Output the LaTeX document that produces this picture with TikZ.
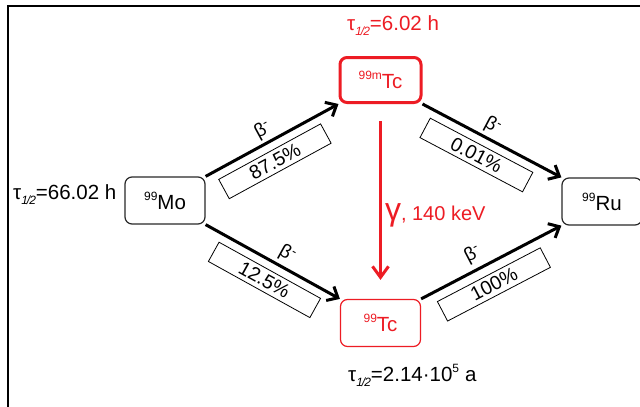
\documentclass[tikz,border=0pt]{standalone}
\usepackage{fontspec}
\setmainfont{Liberation Sans}
\usetikzlibrary{arrows.meta}
\definecolor{myred}{RGB}{237,28,36}
\definecolor{boxgray}{RGB}{40,40,40}
\newcommand{\isot}[2]{\raisebox{9pt}{\fontsize{12}{12}\selectfont #1}#2}
\newcommand{\thalf}{τ\raisebox{-5.5pt}{\fontsize{12}{12}\selectfont\itshape 1\kern-1pt/\kern-1pt2}}
\begin{document}
\begin{tikzpicture}[x=1pt,y=-1pt,
  nuc/.style={draw=boxgray, line width=1.2pt, rounded corners=7pt, minimum width=80pt, minimum height=47pt, inner sep=0pt, font=\fontsize{20.5}{20.5}\selectfont},
  pct/.style={draw=black, line width=0.8pt, minimum width=116pt, minimum height=22pt, inner sep=0pt, font=\fontsize{19.5}{19.5}\selectfont, sloped},
  betalbl/.style={font=\fontsize{19}{19}\selectfont, inner sep=1pt, sloped},
  lbl/.style={inner sep=0pt, font=\fontsize{20.5}{20.5}\selectfont},
  decay/.style={line width=3pt, -{Straight Barb[length=9pt,width=16pt]}},
  gam/.style={draw=myred, line width=3pt, -{Straight Barb[length=11pt,width=16pt]}}]
\clip (0,0) rectangle (640,407);
\fill[white] (0,0) rectangle (640,407);
% frame
\draw[line width=2pt] (8,412) -- (8,6) -- (646,6);
% nuclides
\node[nuc] (mo) at (165,200.5) {\isot{99}{Mo}};
\node[nuc, draw=myred, text=myred, line width=3pt, minimum width=81pt, minimum height=45pt] (mtc) at (380.5,80) {\isot{99m}{Tc}};
\node[nuc, draw=myred, text=myred] (tc) at (380.5,323) {\isot{99}{Tc}};
\node[nuc] (ru) at (602,201.5) {\isot{99}{Ru}};
% half-lives
\node[lbl, anchor=base west] (tmo) at (13,199) {\thalf=66.02 h};
\node[lbl, anchor=base west, text=myred] (tmtc) at (347,30) {\thalf=6.02 h};
\node[lbl, anchor=base west] (ttc) at (348,381) {\thalf=2.14·10\raisebox{9pt}{\fontsize{12}{12}\selectfont 5}\hspace{6pt}a};
% decays
\draw[decay] (mo.north east) -- (mtc.south west)
  node[betalbl, pos=0.48, above=2pt] {β\textsuperscript{-}}
  node[pct, pos=0.45, below=8.5pt] {87.5\%};
\draw[decay] (mo.south east) -- (tc.north west)
  node[betalbl, pos=0.56, above=2pt] {β\textsuperscript{-}}
  node[pct, pos=0.51, below=8.5pt] {12.5\%};
\draw[decay] (mtc.south east) -- (ru.north west)
  node[betalbl, pos=0.46, above=2pt] {β\textsuperscript{-}}
  node[pct, pos=0.455, below=8.5pt] {0.01\%};
\draw[decay] (tc.north east) -- (ru.south west)
  node[betalbl, pos=0.42, above=4pt] {β\textsuperscript{-}}
  node[pct, pos=0.45, below=9.5pt] {100\%};
% gamma transition
\draw[gam, shorten <=17pt, shorten >=19pt] (mtc.south) -- (tc.north)
  node[pos=0.6, anchor=base west, inner sep=0pt, xshift=3pt, text=myred, font=\fontsize{20}{20}\selectfont] {{\fontsize{32}{32}\selectfont γ}, 140 keV};
\end{tikzpicture}
\end{document}
